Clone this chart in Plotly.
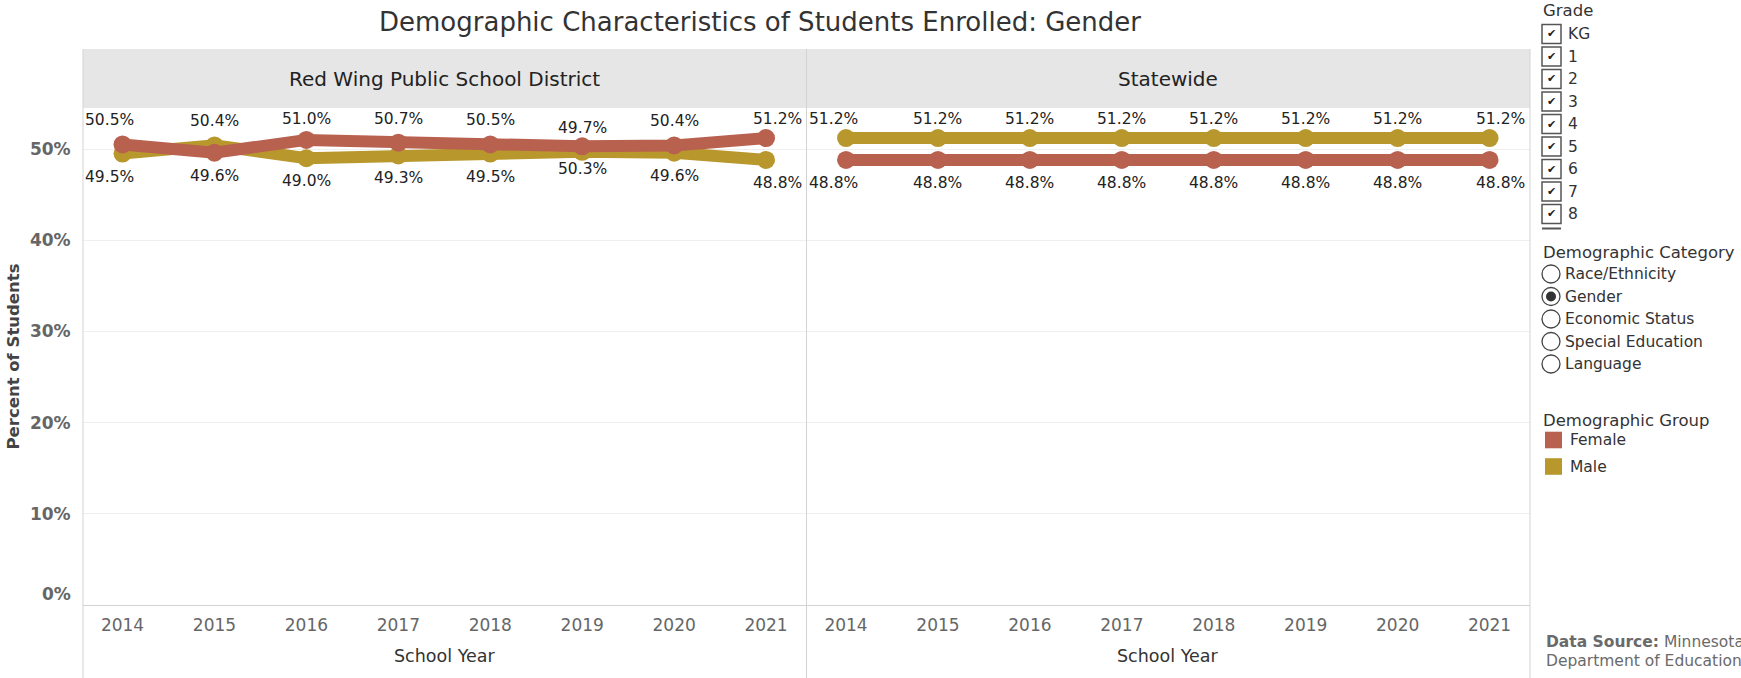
import plotly.graph_objects as go

# ---------------- data ----------------
years = [2014, 2015, 2016, 2017, 2018, 2019, 2020, 2021]
redwing_female = [50.5, 49.6, 51.0, 50.7, 50.5, 50.3, 50.4, 51.2]
redwing_male = [49.5, 50.4, 49.0, 49.3, 49.5, 49.7, 49.6, 48.8]
state_female = [48.8, 48.8, 48.8, 48.8, 48.8, 48.8, 48.8, 48.8]
state_male = [51.2, 51.2, 51.2, 51.2, 51.2, 51.2, 51.2, 51.2]
panel_titles = ["Red Wing Public School District", "Statewide"]
y_ticks = [0, 10, 20, 30, 40, 50]
grades = ["KG", "1", "2", "3", "4", "5", "6", "7", "8"]
categories = ["Race/Ethnicity", "Gender", "Economic Status", "Special Education", "Language"]
selected_category = "Gender"
groups = ["Female", "Male"]

# ---------------- styles ----------------
FONT = "DejaVu Sans"
COL = {"Female": "#b9614f", "Male": "#b8982c"}
# label placement (style): top/bottom per point
redwing_female_pos = ["top", "bottom", "top", "top", "top", "bottom", "top", "top"]
state_female_pos = ["bottom"] * 8

W, H = 1741, 678
L, R, T, B = 83, 1530, 108, 605
PW, PH = R - L, B - T
YMAX = 54.5
XR = [2013.57, 2021.44]
PPU = PH / YMAX


def px(x):
    return (x - L) / PW


def py(y):
    return (B - y) / PH


fig = go.Figure()

panels = [
    ("x", "y", redwing_female, redwing_male, redwing_female_pos),
    ("x2", "y2", state_female, state_male, state_female_pos),
]

annotations = []
for xa, ya, fem, mal, fpos in panels:
    for name, vals in (("Male", mal), ("Female", fem)):
        fig.add_trace(go.Scatter(
            x=years, y=vals, mode="lines+markers", name=name,
            line=dict(color=COL[name], width=12),
            marker=dict(color=COL[name], size=18),
            xaxis=xa, yaxis=ya, showlegend=False, hoverinfo="skip"))
    for name, vals in (("Female", fem), ("Male", mal)):
        for i, (yr, v) in enumerate(zip(years, vals)):
            p = fpos[i]
            if name == "Male":
                p = "bottom" if p == "top" else "top"
            if p == "top":
                shift = min(24, (YMAX - v) * PPU - 11)
            else:
                shift = -23
            a = dict(y=v, yref=ya, text=f"{v:.1f}%", showarrow=False,
                     yshift=shift, yanchor="middle",
                     font=dict(family=FONT, size=15.5, color="#222"))
            if i == 0:
                a.update(x=0, xref=f"{xa} domain", xanchor="left", xshift=0)
            elif i == len(years) - 1:
                a.update(x=1, xref=f"{xa} domain", xanchor="right", xshift=-3)
            else:
                a.update(x=yr, xref=xa, xanchor="center")
            annotations.append(a)

# 0% tick label sits raised above the baseline (as in the reference)
annotations.append(dict(x=0, xref="x domain", y=y_ticks[0], yref="y", text=f"<b>{y_ticks[0]}%</b>",
                        showarrow=False, xanchor="right", yanchor="middle", xshift=-10, yshift=11,
                        font=dict(family=FONT, size=17, color="#666")))

# panel headers
hdr_top = 49
for k, t in enumerate(panel_titles):
    annotations.append(dict(x=0.25 + 0.5 * k, y=py(79), xref="paper", yref="paper",
                            text=t, showarrow=False, xanchor="center", yanchor="middle",
                            font=dict(family=FONT, size=20, color="#222")))
    annotations.append(dict(x=0.25 + 0.5 * k, y=py(656), xref="paper", yref="paper",
                            text="School Year", showarrow=False, xanchor="center",
                            yanchor="middle", font=dict(family=FONT, size=17.5, color="#333")))

annotations.append(dict(x=px(13), y=0.5, xref="paper", yref="paper", text="<b>Percent of Students</b>",
                        textangle=-90, showarrow=False, xanchor="center", yanchor="middle",
                        font=dict(family=FONT, size=16.5, color="#444")))

shapes = []
shapes.append(dict(type="rect", xref="paper", yref="paper", x0=0, x1=1, y0=1, y1=py(hdr_top),
                   fillcolor="#e6e6e6", line=dict(width=0), layer="below"))
for xv in (0, 0.5, 1):
    shapes.append(dict(type="line", xref="paper", yref="paper", x0=xv, x1=xv,
                       y0=py(H + 2), y1=py(hdr_top), line=dict(color="#d3d3d3", width=1)))

# ---------- side panel ----------
SX = 1541
TXT = "#333"
annotations.append(dict(x=px(SX), y=py(11), xref="paper", yref="paper", text="Grade",
                        showarrow=False, xanchor="left", yanchor="middle",
                        font=dict(family=FONT, size=16.5, color=TXT)))
for i, g in enumerate(grades):
    cy = 34 + 22.5 * i
    shapes.append(dict(type="rect", xref="paper", yref="paper", x0=px(1542), x1=px(1561),
                       y0=py(cy - 9.5), y1=py(cy + 9.5), line=dict(color="#555", width=1.5),
                       fillcolor="white"))
    annotations.append(dict(x=px(1551.5), y=py(cy), xref="paper", yref="paper", text="✔",
                            showarrow=False, xanchor="center", yanchor="middle",
                            font=dict(family=FONT, size=11, color="#222")))
    annotations.append(dict(x=px(1566), y=py(cy), xref="paper", yref="paper", text=g,
                            showarrow=False, xanchor="left", yanchor="middle",
                            font=dict(family=FONT, size=15.5, color=TXT)))
# partially visible next checkbox (scroll clipped)
shapes.append(dict(type="line", xref="paper", yref="paper", x0=px(1542), x1=px(1561),
                   y0=py(228.5), y1=py(228.5), line=dict(color="#555", width=2)))

annotations.append(dict(x=px(SX), y=py(252), xref="paper", yref="paper", text="Demographic Category",
                        showarrow=False, xanchor="left", yanchor="middle",
                        font=dict(family=FONT, size=16.5, color=TXT)))
for i, c in enumerate(categories):
    cy = 274 + 22.5 * i
    shapes.append(dict(type="circle", xref="paper", yref="paper", x0=px(1542), x1=px(1560),
                       y0=py(cy - 9), y1=py(cy + 9), line=dict(color="#444", width=1.3),
                       fillcolor="white"))
    if c == selected_category:
        shapes.append(dict(type="circle", xref="paper", yref="paper", x0=px(1546), x1=px(1556),
                           y0=py(cy - 5), y1=py(cy + 5), line=dict(width=0), fillcolor="#333"))
    annotations.append(dict(x=px(1563), y=py(cy), xref="paper", yref="paper", text=c,
                            showarrow=False, xanchor="left", yanchor="middle",
                            font=dict(family=FONT, size=15.5, color=TXT)))

annotations.append(dict(x=px(SX), y=py(420), xref="paper", yref="paper", text="Demographic Group",
                        showarrow=False, xanchor="left", yanchor="middle",
                        font=dict(family=FONT, size=16.5, color=TXT)))
for i, g in enumerate(groups):
    cy = 440 + 26.5 * i
    shapes.append(dict(type="rect", xref="paper", yref="paper", x0=px(1545), x1=px(1562),
                       y0=py(cy - 8.3), y1=py(cy + 8.3), line=dict(width=0), fillcolor=COL[g]))
    annotations.append(dict(x=px(1568), y=py(cy), xref="paper", yref="paper", text=g,
                            showarrow=False, xanchor="left", yanchor="middle",
                            font=dict(family=FONT, size=15.5, color=TXT)))

annotations.append(dict(x=px(1544), y=py(642), xref="paper", yref="paper",
                        text="<b>Data Source:</b> Minnesota", showarrow=False, xanchor="left",
                        yanchor="middle", font=dict(family=FONT, size=15.5, color="#6a6a6a")))
annotations.append(dict(x=px(1544), y=py(661), xref="paper", yref="paper",
                        text="Department of Education", showarrow=False, xanchor="left",
                        yanchor="middle", font=dict(family=FONT, size=15.5, color="#6a6a6a")))

xaxis_common = dict(range=XR, tickvals=years, ticktext=[str(y) for y in years],
                    showgrid=False, zeroline=False, showline=True, linecolor="#d3d3d3",
                    linewidth=1, ticks="", ticklabelstandoff=5,
                    tickfont=dict(family=FONT, size=17, color="#666"), fixedrange=True)
yaxis_common = dict(range=[0, YMAX], tickvals=y_ticks,
                    ticktext=["" if t == 0 else f"<b>{t}%</b>" for t in y_ticks],
                    showgrid=True, gridcolor="#efefef", gridwidth=1, zeroline=False,
                    showline=False, fixedrange=True)

fig.update_layout(
    width=W, height=H, autosize=False,
    margin=dict(l=L, r=W - R, t=T, b=H - B, pad=0),
    paper_bgcolor="white", plot_bgcolor="white",
    font=dict(family=FONT),
    title=dict(text="Demographic Characteristics of Students Enrolled: Gender",
               x=760 / W, xanchor="center", xref="container",
               y=1 - 22 / H, yanchor="middle", yref="container",
               font=dict(family=FONT, size=26, color="#333")),
    xaxis=dict(domain=[0, 0.5], anchor="y", **xaxis_common),
    xaxis2=dict(domain=[0.5, 1], anchor="y2", **xaxis_common),
    yaxis=dict(domain=[0, 1], anchor="x", showticklabels=True, ticks="outside", ticklen=8,
               tickcolor="rgba(0,0,0,0)",
               tickfont=dict(family=FONT, size=17, color="#666"), **yaxis_common),
    yaxis2=dict(domain=[0, 1], anchor="x2", matches="y", showticklabels=False, ticks="",
                **yaxis_common),
    annotations=annotations,
    shapes=shapes,
    showlegend=False,
)

fig.write_html("out.html", config={"displayModeBar": False},
               post_script="document.body.style.margin='0px';document.body.style.overflow='hidden';")
